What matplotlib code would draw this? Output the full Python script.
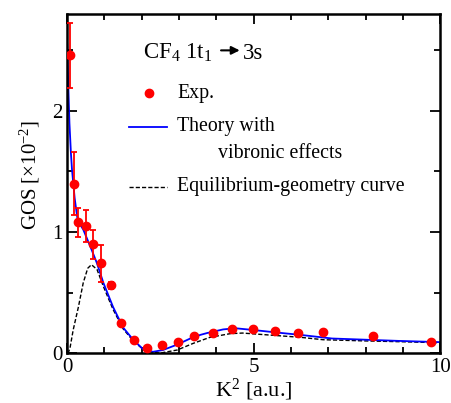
import numpy as np
import matplotlib
matplotlib.use('Agg')
import matplotlib.pyplot as plt
from matplotlib.ticker import MultipleLocator

plt.rcParams['font.family'] = ['Liberation Serif', 'DejaVu Serif']
plt.rcParams['mathtext.fontset'] = 'custom'
plt.rcParams['mathtext.rm'] = 'Liberation Serif'
plt.rcParams['mathtext.default'] = 'rm'

# experimental points (K^2, GOS x10^-2) with error bars
exp_k2 = [0.08, 0.19, 0.29, 0.51, 0.70, 0.91, 1.18, 1.45, 1.80, 2.14, 2.55, 2.98, 3.40,
          3.91, 4.42, 4.99, 5.58, 6.19, 6.86, 8.20, 9.76]
exp_gos = [2.46, 1.40, 1.08, 1.05, 0.90, 0.74, 0.56, 0.25, 0.11, 0.04, 0.07, 0.09, 0.14,
           0.165, 0.20, 0.20, 0.18, 0.165, 0.17, 0.14, 0.09]
exp_err = [0.27, 0.26, 0.12, 0.13, 0.12, 0.15, 0.03, 0, 0, 0, 0, 0, 0,
           0, 0, 0, 0, 0, 0, 0, 0]

# theory with vibronic effects
vib_k2 = [0.0, 0.03, 0.06, 0.1, 0.13, 0.2, 0.27, 0.35, 0.43, 0.62, 0.8, 0.97, 1.23, 1.5,
          1.77, 2.04, 2.3, 2.57, 2.95, 3.3, 3.57, 3.75, 4.18, 4.5, 5.0, 5.6, 6.25, 7.1,
          8.0, 8.9, 10.0]
vib_gos = [2.55, 2.2, 1.9, 1.65, 1.51, 1.28, 1.12, 1.06, 1.02, 0.88, 0.74, 0.58, 0.38, 0.21,
           0.11, 0.03, 0.01, 0.025, 0.07, 0.12, 0.15, 0.165, 0.195, 0.205, 0.19, 0.17, 0.15, 0.12,
           0.11, 0.10, 0.09]

# equilibrium-geometry curve
eq_k2 = [0.0, 0.04, 0.08, 0.16, 0.3, 0.43, 0.55, 0.65, 0.8, 0.97, 1.23, 1.5, 1.77, 2.04,
         2.3, 2.5, 2.95, 3.38, 3.83, 4.37, 4.7, 5.36, 6.25, 6.86, 8.0, 9.0, 10.0]
eq_gos = [0.0, 0.01, 0.05, 0.19, 0.38, 0.58, 0.70, 0.73, 0.69, 0.55, 0.36, 0.20, 0.10, 0.03,
          0.005, 0.0, 0.025, 0.08, 0.13, 0.16, 0.165, 0.15, 0.13, 0.11, 0.10, 0.093, 0.085]

fig = plt.figure(figsize=(4.51, 4.03), dpi=100)
ax = fig.add_axes([0.149, 0.124, 0.827, 0.841])

ax.plot(eq_k2, eq_gos, color='black', linestyle=(0, (3, 1.5)), linewidth=1.0)
ax.plot(vib_k2, vib_gos, color='blue', linewidth=1.3)
ax.errorbar(exp_k2, exp_gos, yerr=exp_err, fmt='o', color='red', markersize=6,
            elinewidth=1.3, capsize=2.5, capthick=1.3, zorder=5)

ax.set_xlim(0, 10)
ax.set_ylim(0, 2.8)
ax.xaxis.set_major_locator(MultipleLocator(5))
ax.xaxis.set_minor_locator(MultipleLocator(1))
ax.yaxis.set_major_locator(MultipleLocator(1))
ax.yaxis.set_minor_locator(MultipleLocator(0.5))
ax.tick_params(which='both', direction='in', top=True, right=True, labelsize=15, width=1.3)
ax.tick_params(which='major', length=7)
ax.tick_params(which='minor', length=4)
for s in ax.spines.values():
    s.set_linewidth(1.8)

ax.set_xlabel('K$^2$ [a.u.]', fontsize=16, labelpad=0)
ax.set_ylabel('GOS [\u00d710$^{-2}$]', fontsize=15)
ax.yaxis.set_label_coords(-0.067, 0.525)

# annotation and legend
ax.text(0.204, 0.885, 'CF$_4$ 1t$_1$', transform=ax.transAxes, fontsize=16.5, va='center')
ax.annotate('', xy=(0.47, 0.893), xytext=(0.405, 0.893), xycoords='axes fraction',
            arrowprops=dict(arrowstyle='-|>', color='black', lw=1.5, mutation_scale=12))
ax.text(0.472, 0.885, '3s', transform=ax.transAxes, fontsize=16.5, va='center')

ax.plot([0.218], [0.767], 'o', color='red', markersize=6, transform=ax.transAxes)
ax.text(0.295, 0.767, 'Exp.', transform=ax.transAxes, fontsize=14.3, va='center')
ax.plot([0.165, 0.268], [0.667, 0.667], color='blue', linewidth=1.3, transform=ax.transAxes)
ax.text(0.295, 0.667, 'Theory with', transform=ax.transAxes, fontsize=14.3, va='center')
ax.text(0.405, 0.59, 'vibronic effects', transform=ax.transAxes, fontsize=14.3, va='center')
ax.plot([0.165, 0.268], [0.49, 0.49], color='black', linestyle=(0, (3, 1.5)), linewidth=1.0,
        transform=ax.transAxes)
ax.text(0.295, 0.49, 'Equilibrium-geometry curve', transform=ax.transAxes, fontsize=14.3,
        va='center')

fig.savefig('out.png', dpi=100)
